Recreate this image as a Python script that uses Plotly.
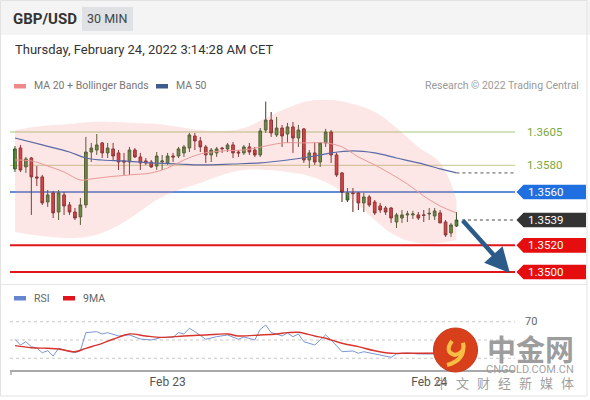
import plotly.graph_objects as go

# ---------------- data ----------------
open_ = [1.35773,1.3593,1.35788,1.35855,1.35713,1.35713,1.35525,1.35593,1.3545,1.35578,
         1.35503,1.3545,1.35413,1.35503,1.3590,1.35915,1.35968,1.35893,1.35923,1.35893,
         1.35833,1.35825,1.35915,1.35863,1.35833,1.35825,1.35795,1.35825,1.35818,1.3587,
         1.3587,1.35893,1.3593,1.3602,1.35983,1.35938,1.35878,1.35893,1.3593,1.35923,
         1.35953,1.3590,1.35893,1.35938,1.35915,1.35878,1.36065,1.3614,1.36028,1.3608,
         1.36035,1.36088,1.36005,1.36073,1.3584,1.35893,1.35825,1.35968,1.3605,1.35878,
         1.35743,1.3554,1.35593,1.35593,1.35518,1.35563,1.35525,1.35495,1.3548,1.3548,
         1.35375,1.35405,1.35428,1.35428,1.35428,1.35428,1.35435,1.3542,1.35443,1.35375,
         1.35293,1.35345]
high = [1.35945,1.35953,1.35863,1.35863,1.35795,1.35728,1.35615,1.35608,1.35615,1.3560,
        1.35525,1.3548,1.35555,1.36013,1.35968,1.36035,1.35975,1.35968,1.35968,1.35915,
        1.35893,1.35938,1.3593,1.35893,1.35855,1.3584,1.3590,1.35878,1.35893,1.35893,
        1.35938,1.35953,1.36043,1.36043,1.36013,1.35953,1.3593,1.35938,1.35938,1.35968,
        1.35975,1.35915,1.35953,1.35968,1.35938,1.3608,1.36278,1.3620,1.36163,1.36103,
        1.36118,1.36125,1.36103,1.3608,1.35915,1.35968,1.35975,1.36073,1.36065,1.35893,
        1.3575,1.3563,1.3563,1.3560,1.35593,1.35578,1.3554,1.35518,1.35495,1.35488,
        1.35443,1.35465,1.35458,1.35458,1.3545,1.35465,1.3548,1.3548,1.35465,1.3539,
        1.35368,1.3545]
low = [1.3575,1.3575,1.35743,1.35428,1.35645,1.35503,1.35488,1.35405,1.3539,1.35428,
       1.35428,1.3539,1.35353,1.3548,1.35825,1.35878,1.35855,1.35855,1.35833,1.35765,
       1.35728,1.35728,1.35855,1.35765,1.35803,1.3578,1.35765,1.35765,1.35803,1.35825,
       1.35855,1.35863,1.3590,1.35915,1.3590,1.35818,1.35825,1.35863,1.35893,1.3590,
       1.35855,1.35863,1.35878,1.35878,1.35863,1.35863,1.36043,1.36013,1.36013,1.35938,
       1.35968,1.35893,1.35938,1.35818,1.3578,1.35803,1.35788,1.35938,1.35818,1.35713,
       1.35525,1.35525,1.3545,1.35465,1.3545,1.35488,1.35428,1.35443,1.35428,1.35368,
       1.3533,1.35368,1.35375,1.35398,1.3539,1.35375,1.3539,1.3539,1.35368,1.35263,
       1.35263,1.35338]
close = [1.35923,1.35765,1.35848,1.35713,1.35705,1.35518,1.35578,1.35443,1.35593,1.35495,
         1.3545,1.35405,1.35503,1.3590,1.3593,1.35953,1.35893,1.3593,1.3587,1.35825,
         1.35825,1.35915,1.35863,1.35818,1.35818,1.35788,1.3587,1.35833,1.3587,1.35863,
         1.35923,1.35938,1.36028,1.35983,1.35938,1.35878,1.35915,1.35923,1.35925,1.35953,
         1.35893,1.35893,1.35938,1.3590,1.35878,1.36058,1.3614,1.36043,1.3608,1.3602,
         1.36088,1.36005,1.36065,1.3584,1.35893,1.35825,1.35968,1.3605,1.35878,1.35728,
         1.3560,1.35593,1.35588,1.35518,1.35563,1.35503,1.35443,1.35465,1.3545,1.35405,
         1.35428,1.35428,1.35435,1.35435,1.35405,1.35425,1.3544,1.35458,1.35368,1.35278,
         1.35353,1.3539]
candle_idx = list(range(len(close)))

ma20_idx = [0,3,6,9,12,14,17,21,25,28,31,34,38,42,46,49,53,57,60,63,66,69,72,75,78,81]
ma20 = [1.3584,1.35833,1.35795,1.3575,1.3569,1.35698,1.35713,1.35728,1.35743,1.3578,
        1.3584,1.35885,1.35908,1.35915,1.35945,1.35968,1.35968,1.35968,1.35938,1.35863,
        1.35803,1.35735,1.3566,1.3557,1.35495,1.35443]

ma50_idx = [0,5,10,13,16,20,25,30,34,40,45,50,55,58,62,66,70,74,78,81]
ma50 = [1.36005,1.35953,1.3590,1.35855,1.3584,1.35833,1.35818,1.3581,1.35803,1.3581,
        1.35818,1.3584,1.3587,1.35893,1.35908,1.35893,1.35855,1.35818,1.35773,1.35743]

bb_idx = [0,5,10,14,18,22,26,30,34,38,42,46,50,54,58,62,66,70,74,78,81]
bb_upper = [1.36065,1.36095,1.3611,1.36125,1.36125,1.36118,1.3611,1.36088,1.36065,1.36058,
            1.3608,1.36155,1.3623,1.36283,1.3629,1.3626,1.362,1.3608,1.35938,1.35818,1.3554]
bb_lower = [1.3530,1.3527,1.35255,1.3527,1.3533,1.35428,1.3554,1.35615,1.35668,1.35728,
            1.35765,1.35765,1.3575,1.3572,1.35653,1.3554,1.3539,1.3527,1.35218,1.35218,1.3524]

rsi_idx = [0,1,2,3,4,5,6,7,8,9,11,12,13,15,16,17,19,21,23,25,27,29,30,31,32,33,35,37,39,41,
           42,44,45,46,47,48,49,50,51,52,53,55,57,58,60,62,63,64,66,69,70,72,74,77,80,81]
rsi = [50.8,44.5,48.1,42.7,41.3,36.1,38.3,32.5,40.9,39.1,36.1,38.3,58.0,59.1,56.6,58.0,54.4,
       55.5,51.1,50.0,52.9,52.9,58.0,56.6,62.8,59.1,50.8,53.6,55.5,50.8,53.3,50.0,61.7,66.4,
       58.0,56.6,54.4,57.6,53.6,56.6,48.1,44.5,55.5,50.0,37.2,38.0,35.5,37.2,34.7,31.1,34.7,
       35.8,34.7,34.7,33.0,35.8]

ma9_idx = [0,3,6,8,11,13,16,18,21,24,27,31,35,39,41,45,48,50,52,55,57,60,63,66,69,71,75,81]
ma9 = [43.8,41.6,40.9,40.2,37.2,40.9,46.4,50.8,56.6,54.4,52.9,54.4,55.5,56.6,54.4,55.5,56.6,
       58.0,58.4,54.4,51.9,46.4,42.7,38.3,35.5,35.5,35.5,35.8]

res_levels = [1.3605, 1.3580]
key_levels = [1.3560, 1.3539, 1.3520, 1.3500]
key_labels = ["1.3560", "1.3539", "1.3520", "1.3500"]
rsi_levels = [70, 50, 30]
tick_idx = [28, 76]
tick_text = ["Feb 23", "Feb 24"]
last_price = 1.3539
target = 1.3500
wm_chars = ["中", "文", "财", "经", "新", "媒", "体"]

# ---------------- layout helpers ----------------
W, H = 590, 400
FONT = "Roboto, Arial, sans-serif"
CJK = "Noto Sans CJK SC"
def px(x): return x / W
def py(y): return 1 - y / H

X0, X1 = 10, 515            # plot area, pixels
Y_TOP, Y_BOT = 100, 283     # price panel, pixels
R_TOP, R_BOT = 305, 370     # rsi panel, pixels
x_range = [-0.917, 91.74]
y_range = [1.349175, 1.3629]
rsi_range = [17.2, 88.25]
ppp = (y_range[1] - y_range[0]) / (Y_BOT - Y_TOP)   # price per pixel

fig = go.Figure()

# Bollinger band
fig.add_trace(go.Scatter(x=bb_idx, y=bb_lower, mode="lines", line=dict(width=0, shape="spline", smoothing=1.2),
                         hoverinfo="skip", showlegend=False))
fig.add_trace(go.Scatter(x=bb_idx, y=bb_upper, mode="lines", line=dict(width=0, shape="spline", smoothing=1.2),
                         fill="tonexty", fillcolor="rgba(244,150,150,0.24)", hoverinfo="skip", showlegend=False))

# MA lines
fig.add_trace(go.Scatter(x=ma50_idx, y=ma50, mode="lines", line=dict(color="#5b6aa6", width=1.2, shape="spline"),
                         showlegend=False))
fig.add_trace(go.Scatter(x=[ma50_idx[-1], x_range[1]], y=[ma50[-1], ma50[-1]], mode="lines",
                         line=dict(color="#555", width=1, dash="dot"), showlegend=False))
fig.add_trace(go.Scatter(x=ma20_idx, y=ma20, mode="lines", line=dict(color="#e99a98", width=1, shape="spline"),
                         showlegend=False))

# candles
fig.add_trace(go.Candlestick(x=candle_idx, open=open_, high=high, low=low, close=close,
                             increasing=dict(line=dict(color="#2b4f1d", width=1), fillcolor="#3f8a2c"),
                             decreasing=dict(line=dict(color="#6b1a1a", width=1), fillcolor="#d02a2a"),
                             whiskerwidth=0, showlegend=False))

# last price dotted
fig.add_trace(go.Scatter(x=[candle_idx[-1] + 1, x_range[1]], y=[last_price, last_price], mode="lines",
                         line=dict(color="#444", width=1, dash="dot"), showlegend=False))

# RSI
fig.add_trace(go.Scatter(x=rsi_idx, y=rsi, xaxis="x2", yaxis="y2", mode="lines",
                         line=dict(color="#7b96d2", width=1), showlegend=False))
fig.add_trace(go.Scatter(x=ma9_idx, y=ma9, xaxis="x2", yaxis="y2", mode="lines",
                         line=dict(color="#d8342e", width=1.4, shape="spline"), showlegend=False))

shapes = []
ann = []

def text(t, x, y, size, color, anchor="left", family=FONT, xref="paper", yref="paper"):
    ann.append(dict(text=t, x=x, y=y, xref=xref, yref=yref, xanchor=anchor, yanchor="middle",
                    showarrow=False, font=dict(size=size, color=color, family=family)))

# page frame / header
shapes.append(dict(type="rect", xref="paper", yref="paper", x0=0, x1=1, y0=py(35), y1=1,
                   fillcolor="#f4f4f4", line=dict(width=0), layer="below"))
shapes.append(dict(type="rect", xref="paper", yref="paper", x0=px(82), x1=px(133), y0=py(31), y1=py(7),
                   fillcolor="#dfe1e4", line=dict(width=0), layer="below"))
shapes.append(dict(type="rect", xref="paper", yref="paper", x0=px(0.5), x1=px(587), y0=py(396), y1=py(0.5),
                   fillcolor="rgba(0,0,0,0)", line=dict(color="#e2e2e2", width=1)))
shapes.append(dict(type="line", xref="paper", yref="paper", x0=0, x1=px(587), y0=py(284.5), y1=py(284.5),
                   line=dict(color="#e6e6e6", width=1)))

text("<b>GBP/USD</b>", px(11), py(19), 15, "#333")
text("30 MIN", px(107.5), py(19), 12.5, "#444", anchor="center")
text("Thursday, February 24, 2022 3:14:28 AM CET", px(13), py(49), 13, "#333")

# legends
shapes.append(dict(type="rect", xref="paper", yref="paper", x0=px(14), x1=px(26), y0=py(88.5), y1=py(84),
                   fillcolor="#f08a8a", line=dict(width=0)))
text("MA 20 + Bollinger Bands", px(32), py(86), 10.5, "#777")
shapes.append(dict(type="rect", xref="paper", yref="paper", x0=px(156), x1=px(168), y0=py(88.5), y1=py(84),
                   fillcolor="#3f5b8c", line=dict(width=0)))
text("MA 50", px(174), py(86), 10.5, "#777")
text("Research © 2022 Trading Central", px(581), py(86), 10.5, "#999", anchor="right")

shapes.append(dict(type="rect", xref="paper", yref="paper", x0=px(14), x1=px(26), y0=py(300.5), y1=py(296),
                   fillcolor="#6585cf", line=dict(width=0)))
text("RSI", px(32), py(298), 10.5, "#666")
shapes.append(dict(type="rect", xref="paper", yref="paper", x0=px(63), x1=px(75), y0=py(300.5), y1=py(296),
                   fillcolor="#e0141a", line=dict(width=0)))
text("9MA", px(81), py(298), 10.5, "#666")

# resistance levels (green text)
res_colors = ["#a8c97c", "#cfd3a0"]
for lvl, col in zip(res_levels, res_colors):
    shapes.append(dict(type="line", xref="paper", yref="y", x0=px(X0), x1=px(X1), y0=lvl, y1=lvl,
                       line=dict(color=col, width=1.2), layer="below"))
    text(f"{lvl:.4f}", px(525), lvl, 11.5, "#7aa83a", yref="y")

# key levels with tags
tag_colors = ["#1f6fe0", "#333333", "#e50d0d", "#e50d0d"]
line_styles = [dict(color="#2d66c8", width=1.5), None, dict(color="#e0141b", width=2), dict(color="#e0141b", width=2)]
hh = 7.3 * ppp
for lvl, lab, col, ls in zip(key_levels, key_labels, tag_colors, line_styles):
    if ls is not None:
        shapes.append(dict(type="line", xref="paper", yref="y", x0=px(X0), x1=px(X1), y0=lvl, y1=lvl,
                           line=ls, layer="below"))
    path = (f"M {px(516.5)},{lvl} L {px(523.5)},{lvl + hh} L {px(586)},{lvl + hh} "
            f"L {px(586)},{lvl - hh} L {px(523.5)},{lvl - hh} Z")
    shapes.append(dict(type="path", xref="paper", yref="y", path=path, fillcolor=col, line=dict(width=0)))
    text(lab, px(526), lvl, 11.5, "white", yref="y")

# RSI dotted guide lines
for lv in rsi_levels:
    shapes.append(dict(type="line", xref="paper", yref="y2", x0=px(X0), x1=px(X1), y0=lv, y1=lv,
                       line=dict(color="#c8c8c8", width=1, dash="dot"), layer="below"))
text("70", px(531), rsi_levels[0], 11, "#666", anchor="center", yref="y2")
shapes.append(dict(type="line", xref="paper", yref="paper", x0=px(11), x1=px(11), y0=py(370), y1=py(375),
                   line=dict(color="#aaa", width=1.5)))

# forecast arrow (from last close toward the 1.3500 target)
ann.append(dict(text="", x=candle_idx[-1] + 9.8, y=target - 1 * ppp, xref="x", yref="y",
                ax=candle_idx[-1] + 0.9, ay=last_price + 1 * ppp, axref="x", ayref="y",
                showarrow=True, arrowhead=2, arrowsize=1.1, arrowwidth=4.5, arrowcolor="#2c5b8a"))

# watermark
shapes.append(dict(type="circle", xref="paper", yref="paper", x0=px(433.5), x1=px(477.5), y0=py(372), y1=py(328),
                   fillcolor="#d8401c", line=dict(color="#c8361a", width=1)))
shapes.append(dict(type="path", xref="paper", yref="paper",
                   path=(f"M {px(452)},{py(341)} Q {px(444)},{py(352)} {px(455)},{py(355)} "
                         f"Q {px(466)},{py(352)} {px(463)},{py(343)} Q {px(466)},{py(360)} {px(447)},{py(365)}"),
                   line=dict(color="#f7bd45", width=4)))
text("<b>中金网</b>", px(530), py(348), 29, "rgba(140,140,140,0.85)", anchor="center", family=CJK)
text("CNGOLD.COM.CN", px(530), py(369), 11, "rgba(150,150,150,0.9)", anchor="center")
for k, ch in enumerate(wm_chars):
    text(ch, px(441 + 21 * k), py(382), 13, "rgba(140,140,140,0.85)", anchor="center", family=CJK)

fig.update_layout(
    width=W, height=H, margin=dict(l=0, r=0, t=0, b=0),
    paper_bgcolor="white", plot_bgcolor="rgba(0,0,0,0)",
    showlegend=False, font=dict(family=FONT),
    xaxis=dict(domain=[px(X0), px(X1)], range=x_range, visible=False, rangeslider=dict(visible=False),
               anchor="y"),
    yaxis=dict(domain=[py(Y_BOT), py(Y_TOP)], range=y_range, visible=False, anchor="x"),
    xaxis2=dict(domain=[px(X0), px(X1)], range=x_range, anchor="y2", matches="x",
                showline=True, linecolor="#a9a9a9", linewidth=2, showgrid=False, zeroline=False,
                tickmode="array", tickvals=tick_idx, ticktext=tick_text, ticks="",
                tickfont=dict(size=12, color="#555", family=FONT)),
    yaxis2=dict(domain=[py(R_BOT), py(R_TOP)], range=rsi_range, visible=False, anchor="x2"),
    shapes=shapes, annotations=ann,
)

fig.write_html("out.html", config={"displayModeBar": False},
               post_script="document.body.style.margin='0';document.body.style.overflow='hidden';")
